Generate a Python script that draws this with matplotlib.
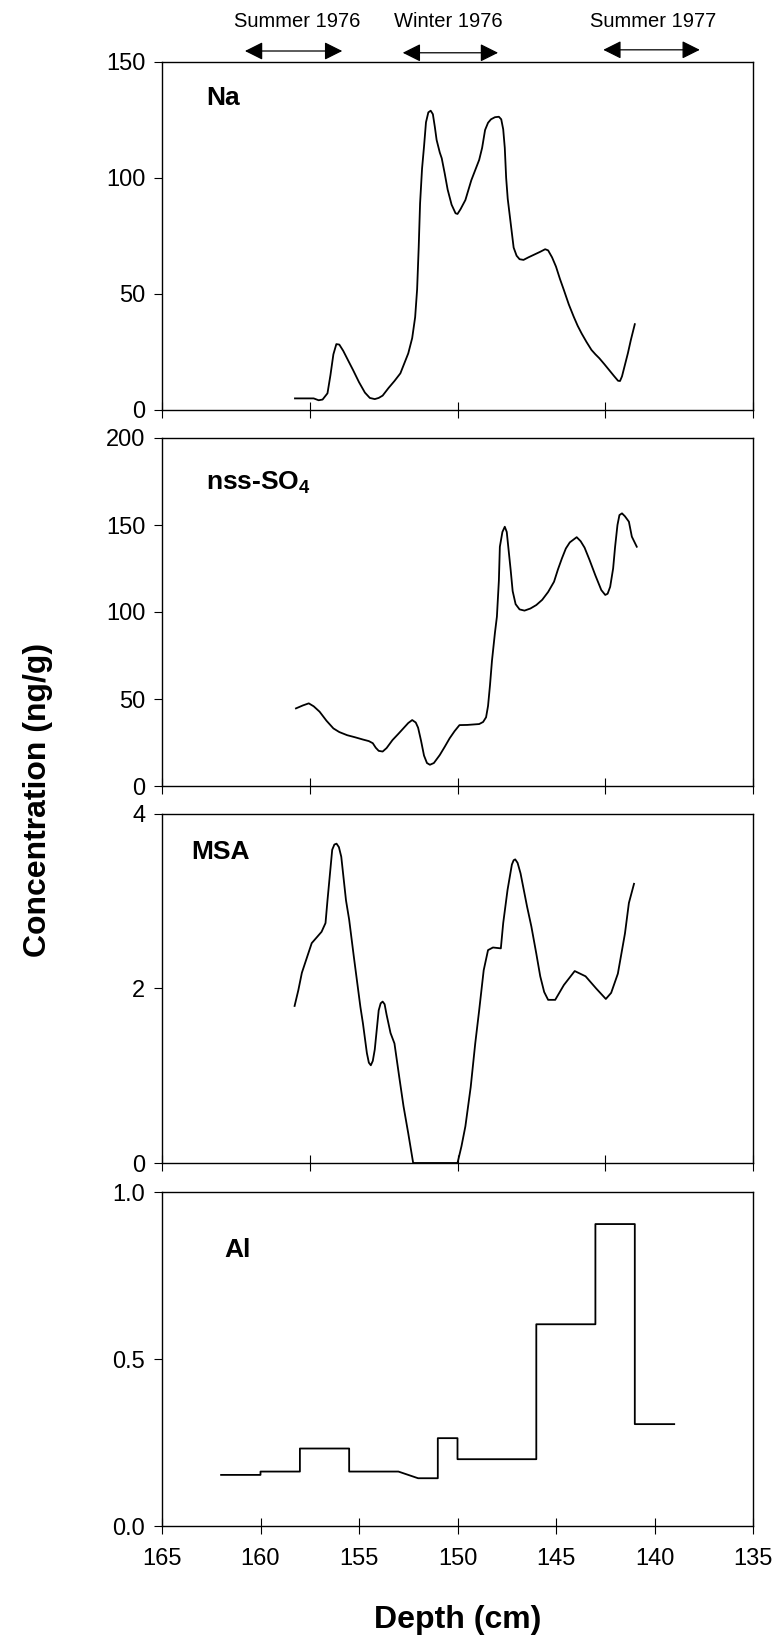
"""
Ice core chemistry profiles versus depth (Na, nss-SO4, MSA, Al)
"""

import matplotlib
matplotlib.use('Agg')
import matplotlib.pyplot as plt
from matplotlib.ticker import FormatStrFormatter

plt.rcParams['font.family'] = ['Liberation Sans', 'DejaVu Sans']
plt.rcParams['mathtext.fontset'] = 'custom'
plt.rcParams['mathtext.rm'] = 'Liberation Sans'
plt.rcParams['mathtext.bf'] = 'Liberation Sans:bold'

# data
na_depth = [158.25, 157.3, 157.05, 156.85, 156.6, 156.45, 156.3, 156.15, 156.0, 155.8,
            155.5, 155.3, 155.0, 154.7, 154.45, 154.2, 154.0, 153.8, 153.5, 153.2,
            152.9, 152.5, 152.3, 152.15, 152.05, 151.97, 151.9, 151.8, 151.7, 151.6,
            151.48, 151.36, 151.25, 151.15, 151.06, 150.9, 150.8, 150.65, 150.5, 150.3,
            150.1, 150.0, 149.85, 149.6, 149.3, 148.9, 148.75, 148.6, 148.45, 148.3,
            148.1, 147.9, 147.78, 147.68, 147.6, 147.53, 147.45, 147.35, 147.25, 147.15,
            147.0, 146.85, 146.65, 146.4, 146.15, 145.8, 145.55, 145.4, 145.2, 145.0,
            144.8, 144.6, 144.35, 144.1, 143.9, 143.7, 143.45, 143.2, 143.0, 142.8,
            142.55, 142.3, 142.05, 141.85, 141.75, 141.65, 141.5, 141.35, 141.2, 141.0]
na_conc = [5.0, 5.0, 4.2, 4.5, 7.2, 15.0, 24.0, 28.4, 28.2, 25.5,
           20.5, 17.2, 12.0, 7.5, 5.2, 4.7, 5.2, 6.2, 9.5, 12.5,
           15.8, 24.4, 31.0, 40.0, 52.0, 70.0, 89.0, 104.0, 113.5, 124.0,
           128.3, 129.0, 127.5, 122.0, 116.4, 111.0, 108.5, 102.0, 95.0, 88.5,
           84.8, 84.5, 86.5, 90.5, 99.0, 107.8, 113.0, 120.7, 123.8, 125.3,
           126.2, 126.4, 125.3, 121.0, 113.0, 100.0, 91.0, 84.0, 77.0, 70.0,
           66.5, 65.0, 64.7, 65.8, 66.8, 68.2, 69.3, 68.8, 65.8, 61.8,
           56.5, 51.7, 45.5, 40.2, 36.3, 33.0, 29.3, 25.9, 24.0, 22.3,
           19.8, 17.2, 14.6, 12.6, 12.5, 14.5, 19.5, 24.5, 30.2, 37.0]

so4_depth = [158.2, 157.85, 157.55, 157.3, 157.0, 156.65, 156.3, 156.0, 155.6, 155.2,
             154.8, 154.5, 154.3, 154.15, 154.0, 153.8, 153.6, 153.3, 153.0, 152.75,
             152.5, 152.3, 152.12, 152.0, 151.85, 151.7, 151.55, 151.4, 151.2, 150.9,
             150.65, 150.4, 150.15, 149.9, 149.5, 148.9, 148.7, 148.55, 148.45, 148.35,
             148.25, 148.1, 148.0, 147.9, 147.85, 147.72, 147.6, 147.5, 147.4, 147.3,
             147.2, 147.05, 146.85, 146.6, 146.3, 146.0, 145.7, 145.4, 145.1, 144.9,
             144.7, 144.5, 144.3, 143.95, 143.75, 143.55, 143.3, 143.0, 142.7, 142.5,
             142.38, 142.25, 142.1, 142.0, 141.88, 141.78, 141.65, 141.5, 141.3, 141.15, 140.9]
so4_conc = [44.6, 46.3, 47.5, 45.8, 42.7, 37.5, 33.1, 31.0, 29.2, 28.0,
            26.7, 25.8, 24.6, 22.0, 20.2, 19.8, 21.8, 26.4, 30.0, 33.1,
            36.2, 37.9, 36.5, 33.5, 26.0, 17.5, 13.2, 12.2, 13.2, 17.8,
            22.5, 27.4, 31.5, 35.0, 35.1, 35.6, 36.8, 39.5, 46.0, 58.0,
            72.0, 88.0, 97.3, 118.0, 137.5, 146.0, 149.0, 146.0, 135.0, 124.0,
            112.0, 104.5, 101.5, 100.8, 102.0, 104.0, 107.0, 111.5, 117.4, 124.5,
            130.8, 136.5, 140.0, 143.0, 140.7, 137.0, 130.0, 121.0, 112.6, 109.8,
            110.5, 114.5, 125.0, 137.5, 150.0, 155.7, 156.7, 155.0, 151.9, 143.3, 137.5]

msa_depth = [158.27, 158.08, 157.9, 157.68, 157.4, 157.13, 156.9, 156.7, 156.6, 156.36,
             156.25, 156.14, 156.02, 155.9, 155.66, 155.5, 155.26, 154.93, 154.8, 154.6,
             154.5, 154.4, 154.3, 154.2, 154.0, 153.9, 153.8, 153.7, 153.6, 153.4,
             153.2, 152.96, 152.74, 152.5, 152.25, 150.0, 149.8, 149.6, 149.33, 149.1,
             148.9, 148.67, 148.45, 148.2, 147.8, 147.68, 147.46, 147.24, 147.15, 147.07,
             146.95, 146.8, 146.47, 146.25, 146.0, 145.8, 145.6, 145.4, 145.04, 144.6,
             144.05, 143.5, 142.96, 142.47, 142.2, 141.86, 141.5, 141.3, 141.04]
msa_conc = [1.80, 1.98, 2.18, 2.33, 2.52, 2.59, 2.65, 2.75, 3.01, 3.59,
            3.65, 3.66, 3.62, 3.51, 3.01, 2.79, 2.36, 1.79, 1.60, 1.26,
            1.15, 1.12, 1.17, 1.30, 1.75, 1.83, 1.85, 1.82, 1.70, 1.49,
            1.37, 0.99, 0.65, 0.34, 0.0, 0.0, 0.19, 0.42, 0.87, 1.37,
            1.75, 2.21, 2.44, 2.47, 2.46, 2.75, 3.13, 3.42, 3.47, 3.48,
            3.44, 3.32, 2.94, 2.71, 2.40, 2.14, 1.96, 1.87, 1.87, 2.04,
            2.20, 2.14, 2.00, 1.88, 1.95, 2.17, 2.63, 2.98, 3.20]

al_depth = [162.0, 160.0, 160.0, 158.0, 158.0, 155.5, 155.5, 153.0, 152.0, 151.0,
            151.0, 150.0, 150.0, 146.0, 146.0, 143.0, 143.0, 141.0, 141.0, 139.0]
al_conc = [0.153, 0.153, 0.163, 0.163, 0.232, 0.232, 0.163, 0.163, 0.143, 0.143,
           0.263, 0.263, 0.200, 0.200, 0.604, 0.604, 0.904, 0.904, 0.305, 0.305]

panel_names = ['Na', r'nss-SO$_\mathbf{4}$', 'MSA', 'Al']
y_limits = [(0, 150), (0, 200), (0, 4), (0, 1.0)]
y_ticks = [[0, 50, 100, 150], [0, 50, 100, 150, 200], [0, 2, 4], [0.0, 0.5, 1.0]]
label_pos = [(0.0756, 0.876), (0.074, 0.851), (0.05, 0.871), (0.105, 0.805)]

season_names = ['Summer 1976', 'Winter 1976', 'Summer 1977']
season_text_x = [158.16, 150.48, 140.08]
season_start = [160.79, 152.78, 142.6]
season_end = [155.85, 147.94, 137.7]
season_arrow_y = [1.0316, 1.0265, 1.035]

# figure, axes placed to match the original layout
fig = plt.figure(figsize=(7.8, 16.42), dpi=100)
left, width = 162 / 780, 591 / 780
boxes = [(1 - 410 / 1642, 348 / 1642), (1 - 786 / 1642, 348 / 1642),
         (1 - 1163 / 1642, 349 / 1642), (1 - 1526 / 1642, 334 / 1642)]
axes = [fig.add_axes([left, b, width, h]) for b, h in boxes]

series = [(na_depth, na_conc), (so4_depth, so4_conc),
          (msa_depth, msa_conc), (al_depth, al_conc)]

for i, ax in enumerate(axes):
    xs, ys = series[i]
    ax.plot(xs, ys, color='black', lw=1.3, solid_joinstyle='round')
    ax.set_xlim(165, 135)
    ax.set_ylim(*y_limits[i])
    ax.set_yticks(y_ticks[i])
    if i < 3:
        ax.set_xticks([165, 157.5, 150, 142.5, 135])
        ax.set_xticklabels([])
    else:
        ax.set_xticks([165, 160, 155, 150, 145, 140, 135])
        ax.yaxis.set_major_formatter(FormatStrFormatter('%.1f'))
    ax.tick_params(axis='x', direction='inout', length=11, width=0.8,
                   labelsize=17, pad=10)
    ax.tick_params(axis='y', direction='out', length=6, width=0.8,
                   labelsize=17, pad=6)
    for sp in ax.spines.values():
        sp.set_linewidth(1.0)
    ax.text(label_pos[i][0], label_pos[i][1], panel_names[i],
            transform=ax.transAxes, fontsize=19, fontweight='bold',
            ha='left', va='baseline')

# season arrows above the top panel
top = axes[0]
for name, tx, x0, x1, ay in zip(season_names, season_text_x, season_start,
                                season_end, season_arrow_y):
    top.annotate('', xy=(x1, ay), xytext=(x0, ay),
                 xycoords=('data', 'axes fraction'),
                 textcoords=('data', 'axes fraction'),
                 arrowprops=dict(arrowstyle='<|-|>,head_length=1.1,head_width=0.55',
                                 mutation_scale=10, lw=0.9, color='black',
                                 shrinkA=0, shrinkB=0),
                 annotation_clip=False)
    top.text(tx, 1.1006, name, transform=top.get_xaxis_transform(),
             fontsize=14.5, ha='center', va='baseline')

fig.text(38 / 780, 1 - 800 / 1642, 'Concentration (ng/g)', rotation=90,
         fontsize=23, fontweight='bold', ha='center', va='center')
fig.text(458 / 780, 14 / 1642, 'Depth (cm)', fontsize=23, fontweight='bold',
         ha='center', va='baseline')

fig.savefig('out.png', dpi=100)
